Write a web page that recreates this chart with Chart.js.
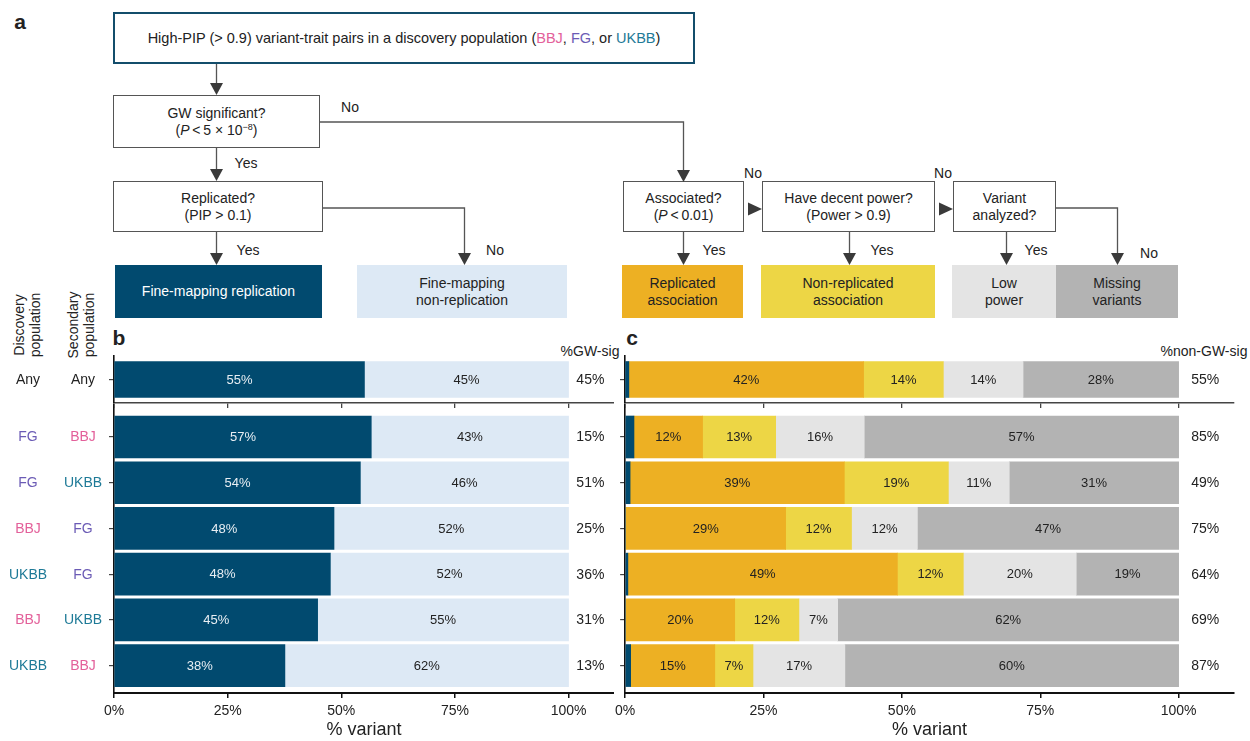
<!DOCTYPE html>
<html>
<head>
<meta charset="utf-8">
<script src="https://cdn.jsdelivr.net/npm/chart.js@4"></script>
<style>
  html, body { margin: 0; padding: 0; background: #fff; }
  body { width: 1250px; height: 741px; position: relative; overflow: hidden;
         font-family: "Liberation Sans", Arial, sans-serif; color: #222; }
  .abs { position: absolute; }
  .box { position: absolute; box-sizing: border-box; border: 1px solid #555; background: #fff;
         display: flex; align-items: center; justify-content: center; text-align: center;
         font-size: 14px; line-height: 17px; }
  .fill { border: none; }
  .lbl { position: absolute; font-size: 14px; transform: translate(-50%, -50%); white-space: nowrap; }
  .panel { position: absolute; font-size: 21px; font-weight: bold; transform: translate(-50%, -50%); }
  .rot { position: absolute; width: 0; height: 0; }
  .rot div { position: absolute; transform: translate(-50%, -50%) rotate(-90deg); font-size: 14px;
             line-height: 16px; text-align: center; white-space: nowrap; }
  canvas { position: absolute; }
  sup { font-size: 9px; line-height: 0; vertical-align: 5px; }
  .bbj { color: #e3609a; } .fg { color: #6b5bb5; } .ukbb { color: #1e7a97; }
</style>
</head>
<body>

<!-- panel a: flowchart -->
<div class="panel" style="left:20px;top:22px;">a</div>
<div class="box" style="left:113px;top:12px;width:582px;height:52px;border:2px solid #134d6b;font-size:14.5px;">
  <div>High-PIP (&gt; 0.9) variant-trait pairs in a discovery population (<span class="bbj">BBJ</span>, <span class="fg">FG</span>, or <span class="ukbb">UKBB</span>)</div>
</div>
<div class="box" style="left:113px;top:95px;width:207px;height:53px;"><div>GW significant?<br>(<i>P</i>&thinsp;&lt;&thinsp;5 × 10<sup>−8</sup>)</div></div>
<div class="box" style="left:113px;top:181px;width:210px;height:51px;"><div>Replicated?<br>(PIP &gt; 0.1)</div></div>
<div class="box" style="left:623px;top:181px;width:121px;height:51px;"><div>Associated?<br>(<i>P</i>&thinsp;&lt;&thinsp;0.01)</div></div>
<div class="box" style="left:762px;top:181px;width:173px;height:51px;"><div>Have decent power?<br>(Power &gt; 0.9)</div></div>
<div class="box" style="left:953px;top:181px;width:103px;height:51px;"><div>Variant<br>analyzed?</div></div>

<div class="box fill" style="left:115px;top:265px;width:207px;height:53px;background:#014a6f;color:#fff;"><div>Fine-mapping replication</div></div>
<div class="box fill" style="left:357px;top:265px;width:210px;height:53px;background:#dde9f5;"><div>Fine-mapping<br>non-replication</div></div>
<div class="box fill" style="left:622px;top:265px;width:121px;height:53px;background:#edb023;"><div>Replicated<br>association</div></div>
<div class="box fill" style="left:761px;top:265px;width:174px;height:53px;background:#edd645;"><div>Non-replicated<br>association</div></div>
<div class="box fill" style="left:952px;top:265px;width:104px;height:53px;background:#e4e4e4;"><div>Low<br>power</div></div>
<div class="box fill" style="left:1056px;top:265px;width:122px;height:53px;background:#b3b3b3;"><div>Missing<br>variants</div></div>

<svg class="abs" style="left:0;top:0;" width="1250" height="330">
  <g fill="none" stroke="#555" stroke-width="1.3">
    <path d="M216.5 64 V84"/>
    <path d="M216.5 148 V170"/>
    <path d="M216.5 232 V254"/>
    <path d="M323 208 H464.5 V254"/>
    <path d="M320 122 H683.5 V170"/>
    <path d="M683.5 232 V254"/>
    <path d="M849.5 232 V254"/>
    <path d="M1006.5 232 V254"/>
    <path d="M1056 208 H1117.5 V254"/>
  </g>
  <g fill="#3a3a3a">
    <polygon points="210,83 223,83 216.5,95"/>
    <polygon points="210,169 223,169 216.5,181"/>
    <polygon points="210,253 223,253 216.5,265"/>
    <polygon points="458,253 471,253 464.5,265"/>
    <polygon points="677,170 690,170 683.5,182"/>
    <polygon points="677,253 690,253 683.5,265"/>
    <polygon points="843,253 856,253 849.5,265"/>
    <polygon points="1000,253 1013,253 1006.5,265"/>
    <polygon points="1111,253 1124,253 1117.5,265"/>
    <polygon points="748,202.5 748,215.5 762,209"/>
    <polygon points="939,202.5 939,215.5 953,209"/>
  </g>
</svg>
<div class="lbl" style="left:350px;top:107px;">No</div>
<div class="lbl" style="left:246px;top:163px;">Yes</div>
<div class="lbl" style="left:248px;top:250px;">Yes</div>
<div class="lbl" style="left:495px;top:250px;">No</div>
<div class="lbl" style="left:753px;top:173px;">No</div>
<div class="lbl" style="left:943px;top:173px;">No</div>
<div class="lbl" style="left:714px;top:250px;">Yes</div>
<div class="lbl" style="left:882px;top:250px;">Yes</div>
<div class="lbl" style="left:1036px;top:250px;">Yes</div>
<div class="lbl" style="left:1149px;top:253px;">No</div>

<!-- panels b and c -->
<div class="rot" style="left:27px;top:325px;"><div>Discovery<br>population</div></div>
<div class="rot" style="left:81px;top:325px;"><div>Secondary<br>population</div></div>
<div class="panel" style="left:119px;top:338px;">b</div>
<div class="panel" style="left:632px;top:338px;">c</div>
<div class="lbl" style="left:590px;top:351px;">%GW-sig</div>
<div class="lbl" style="left:1204px;top:351px;">%non-GW-sig</div>

<canvas id="bTop" width="614" height="62" style="left:0;top:350px;"></canvas>
<canvas id="bBottom" width="614" height="341" style="left:0;top:400px;"></canvas>
<canvas id="cTop" width="640" height="62" style="left:610px;top:350px;"></canvas>
<canvas id="cBottom" width="640" height="341" style="left:610px;top:400px;"></canvas>

<script>
// rows: first one is the "Any" summary, the rest are population pairs
const discovery = ['Any', 'FG', 'FG', 'BBJ', 'UKBB', 'BBJ', 'UKBB'];
const secondary = ['Any', 'BBJ', 'UKBB', 'FG', 'FG', 'UKBB', 'BBJ'];

// panel b (% of GW-significant variants)
const fmReplication = [55.1, 56.6, 54.2, 48.4, 47.6, 44.8, 37.6];
const fmNonReplication = [44.9, 43.4, 45.8, 51.6, 52.4, 55.2, 62.4];
const gwSig = [45, 15, 51, 25, 36, 31, 13];

// panel c (% of non-GW-significant variants)
const cFineMapping = [0.7, 1.6, 0.9, 0, 0.5, 0, 1.0];
const replicatedAssoc = [42.4, 12.4, 38.7, 29.0, 48.7, 19.8, 15.2];
const nonReplicatedAssoc = [14.4, 13.2, 18.8, 11.9, 11.9, 11.6, 6.9];
const lowPower = [14.4, 16.0, 11.0, 11.9, 20.4, 7.0, 16.6];
const missingVariants = [28.1, 56.8, 30.6, 47.2, 18.5, 61.6, 60.3];
const nonGwSig = [55, 85, 49, 75, 64, 69, 87];

const xTicks = [0, 25, 50, 75, 100];

const FONT = '"Liberation Sans", Arial, sans-serif';
const popColors = {Any: '#222', BBJ: '#e3609a', FG: '#6b5bb5', UKBB: '#1e7a97'};

// segment labels, row labels and the right-hand % column
const rowText = {
  id: 'rowText',
  afterDatasetsDraw(chart, args, opts) {
    const ctx = chart.ctx;
    const yScale = chart.scales.y;
    const xScale = chart.scales.x;
    ctx.save();
    ctx.textAlign = 'center';
    ctx.textBaseline = 'middle';
    ctx.font = '13px ' + FONT;
    chart.data.datasets.forEach((ds, di) => {
      chart.getDatasetMeta(di).data.forEach((bar, i) => {
        const v = ds.data[i].x;
        if (v < 3) return;
        ctx.fillStyle = ds.labelColor;
        ctx.fillText(Math.round(v) + '%', (bar.x + bar.base) / 2, bar.y + 0.5);
      });
    });
    ctx.font = '14px ' + FONT;
    opts.rows.forEach((r, k) => {
      const y = yScale.getPixelForValue(k + 1) + 0.5;
      ctx.fillStyle = '#222';
      ctx.fillText(opts.right[r] + '%', xScale.getPixelForValue(104.8), y);
      if (opts.left) {
        ctx.fillStyle = popColors[discovery[r]];
        ctx.fillText(discovery[r], 28, y);
        ctx.fillStyle = popColors[secondary[r]];
        ctx.fillText(secondary[r], 83, y);
      }
    });
    ctx.restore();
  }
};

function makeChart(id, rows, series, opts) {
  const bottom = opts.bottom;
  const datasets = series.map(s => ({
    label: s.label,
    data: rows.map((r, k) => ({x: s.values[r], y: k + 1})),
    backgroundColor: s.color,
    labelColor: s.text || '#222',
    borderWidth: 0,
    barThickness: bottom ? 42 : 36,
    stack: 'all'
  }));
  new Chart(document.getElementById(id), {
    type: 'bar',
    data: {datasets: datasets},
    options: {
      indexAxis: 'y',
      responsive: false,
      animation: false,
      layout: {padding: {top: bottom ? 5 : 6, right: opts.padRight, left: 0, bottom: 0}},
      plugins: {
        legend: {display: false},
        tooltip: {enabled: false},
        rowText: {rows: rows, right: opts.right, left: opts.left}
      },
      scales: {
        x: {
          type: 'linear',
          stacked: true,
          offset: false,
          min: 0,
          max: 110,
          afterBuildTicks: scale => { scale.ticks = xTicks.map(v => ({value: v})); },
          afterFit: scale => { scale.height = bottom ? 48 : 9; },
          grid: {drawOnChartArea: false, drawTicks: true, tickLength: 5, offset: false,
                 color: bottom ? '#111' : '#444', lineWidth: bottom ? 1.5 : 1.3},
          border: {display: true, color: bottom ? '#111' : '#444', width: bottom ? 2 : 1.6},
          ticks: {
            display: bottom,
            padding: 5,
            color: '#222',
            font: {size: 14, family: FONT},
            callback: v => v + '%'
          },
          title: {display: bottom, text: '% variant', color: '#222',
                  font: {size: 18, family: FONT}, padding: {top: 0, bottom: 0}}
        },
        y: {
          type: 'linear',
          stacked: true,
          reverse: true,
          offset: false,
          min: bottom ? 0.3 : 0.4,
          max: rows.length + 0.6,
          afterBuildTicks: scale => { scale.ticks = rows.map((r, k) => ({value: k + 1})); },
          afterFit: scale => { scale.width = opts.axisLeft; },
          grid: {drawOnChartArea: false, drawTicks: true, tickLength: 5, offset: false,
                 color: '#444', lineWidth: 1.2},
          border: {display: true, color: '#111', width: 1.6},
          ticks: {display: false}
        }
      }
    },
    plugins: [rowText]
  });
}

const bSeries = [
  {label: 'Fine-mapping replication', values: fmReplication, color: '#014a6f', text: '#e8eef3'},
  {label: 'Fine-mapping non-replication', values: fmNonReplication, color: '#dde9f5'}
];
const cSeries = [
  {label: 'Fine-mapping replication', values: cFineMapping, color: '#014a6f', text: '#e8eef3'},
  {label: 'Replicated association', values: replicatedAssoc, color: '#edb023'},
  {label: 'Non-replicated association', values: nonReplicatedAssoc, color: '#edd645'},
  {label: 'Low power', values: lowPower, color: '#e4e4e4'},
  {label: 'Missing variants', values: missingVariants, color: '#b3b3b3'}
];

const topRows = [0];
const pairRows = [1, 2, 3, 4, 5, 6];

makeChart('bTop', topRows, bSeries, {bottom: false, right: gwSig, left: true, axisLeft: 114, padRight: 0});
makeChart('bBottom', pairRows, bSeries, {bottom: true, right: gwSig, left: true, axisLeft: 114, padRight: 0});
makeChart('cTop', topRows, cSeries, {bottom: false, right: nonGwSig, left: false, axisLeft: 15, padRight: 16});
makeChart('cBottom', pairRows, cSeries, {bottom: true, right: nonGwSig, left: false, axisLeft: 15, padRight: 16});
</script>
</body>
</html>
